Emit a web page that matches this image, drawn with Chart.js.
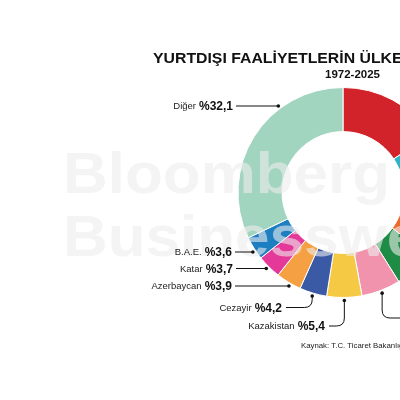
<!DOCTYPE html>
<html><head><meta charset="utf-8">
<script src="https://cdn.jsdelivr.net/npm/chart.js@4"></script>
<style>
html,body{margin:0;padding:0;width:400px;height:400px;overflow:hidden;background:#fff}
#wrap{position:absolute;left:0;top:0;width:686px;height:400px}
</style></head>
<body><div id="wrap"><canvas id="c" width="686" height="400"></canvas></div>
<script>
// ---- data ----
const categories = ['Rusya','Türkmenistan','Irak','Libya','Suudi Arabistan','Kazakistan','Cezayir','Azerbaycan','Katar','B.A.E.','Diğer'];
const shares = [15.7, 12.0, 7.3, 6.1, 6.0, 5.4, 4.2, 3.9, 3.7, 3.6, 32.1];
const sliceColors = ['#d2232a','#2bb5c9','#ee6a2c','#1e8c45','#f293ad','#f6c945','#3a5aa6','#f5a042','#e5399a','#1d7fc2','#a2d5c0'];
const titleText = 'YURTDIŞI FAALİYETLERİN ÜLKELERE GÖRE DAĞILIMI';
const subtitleText = '1972-2025';
const sourceText = 'Kaynak: T.C. Ticaret Bakanlığı';
const watermarkLines = ['Bloomberg', 'Businessweek'];

// ---- label layout (positions only) ----
const labelLayout = [
  {i:10, right:233, y:106, mode:'h'},
  {i:9,  right:232, y:252, mode:'h'},
  {i:8,  right:233, y:268.5, mode:'h'},
  {i:7,  right:232, y:286, mode:'h'},
  {i:6,  right:282, y:307.5, mode:'curveL'},
  {i:5,  right:325, y:326, mode:'curveL'},
  {i:4,  left:406,  y:318, mode:'curveR'}
];

const FONT = '"Liberation Sans", Arial, sans-serif';
const fmt = v => '%' + v.toFixed(1).replace('.', ',');

function fitText(ctx, text, x, y, font, refText, refWidth, color) {
  ctx.save();
  ctx.font = font;
  ctx.fillStyle = color;
  ctx.textBaseline = 'alphabetic';
  ctx.textAlign = 'left';
  const w = ctx.measureText(refText).width;
  const sx = refWidth / w;
  ctx.translate(x, y);
  ctx.scale(sx, 1);
  ctx.fillText(text, 0, 0);
  ctx.restore();
}

const overlay = {
  id: 'overlay',
  afterDatasetsDraw(chart) {
    const ctx = chart.ctx;
    const wm = 'rgba(236,236,236,0.6)';
    fitText(ctx, watermarkLines[0], 63, 193, 'bold 58px ' + FONT, watermarkLines[0], 327, wm);
    fitText(ctx, watermarkLines[1], 63, 256, 'bold 58px ' + FONT, watermarkLines[0], 327, wm);
  },
  afterDraw(chart) {
    const ctx = chart.ctx;
    fitText(ctx, titleText, 153, 63, 'bold 15.5px ' + FONT, 'YURTDIŞI FAALİYETLERİN ÜLK', 239, '#111');
    fitText(ctx, subtitleText, 325, 77.5, 'bold 10px ' + FONT, subtitleText, 55, '#111');
    ctx.save();
    ctx.font = '7.8px ' + FONT;
    ctx.fillStyle = '#222';
    ctx.textBaseline = 'alphabetic';
    ctx.fillText(sourceText, 301, 347.5);
    ctx.restore();

    const meta = chart.getDatasetMeta(0);
    ctx.save();
    ctx.strokeStyle = '#111';
    ctx.fillStyle = '#111';
    ctx.lineWidth = 1;
    labelLayout.forEach(L => {
      const arc = meta.data[L.i];
      const p = arc.getProps(['x','y','startAngle','endAngle','outerRadius']);
      const R = p.outerRadius + 3;
      let dx, dy;
      if (L.mode === 'h') {
        dy = L.y;
        dx = p.x - Math.sqrt(Math.max(R*R - (L.y - p.y)*(L.y - p.y), 0));
      } else {
        const a = (p.startAngle + p.endAngle) / 2;
        dx = p.x + R * Math.cos(a);
        dy = p.y + R * Math.sin(a);
      }
      ctx.beginPath(); ctx.arc(dx, dy, 1.8, 0, Math.PI*2); ctx.fill();
      const name = categories[L.i];
      const pct = fmt(shares[L.i]);
      ctx.textBaseline = 'alphabetic';
      ctx.font = 'bold 12px ' + FONT;
      const pw = ctx.measureText(pct).width;
      ctx.font = '9.5px ' + FONT;
      const nw = ctx.measureText(name).width;
      let left, right;
      if (L.right !== undefined) { right = L.right; left = right - pw - 3 - nw; }
      else { left = L.left; right = left + nw + 3 + pw; }
      ctx.fillStyle = '#222';
      ctx.font = '9.5px ' + FONT;
      ctx.fillText(name, left, L.y + 3.4);
      ctx.fillStyle = '#111';
      ctx.font = 'bold 12px ' + FONT;
      ctx.fillText(pct, left + nw + 3, L.y + 4.3);
      ctx.beginPath();
      if (L.mode === 'h') {
        ctx.moveTo(right + 3, L.y); ctx.lineTo(dx, dy);
      } else if (L.mode === 'curveL') {
        ctx.moveTo(right + 4, L.y);
        ctx.lineTo(dx - 8, L.y);
        ctx.quadraticCurveTo(dx, L.y, dx, L.y - 8);
        ctx.lineTo(dx, dy);
      } else {
        ctx.moveTo(dx, dy);
        ctx.lineTo(dx, L.y - 8);
        ctx.quadraticCurveTo(dx, L.y, dx + 8, L.y);
        ctx.lineTo(left - 4, L.y);
      }
      ctx.stroke();
    });
    ctx.restore();
  }
};

new Chart(document.getElementById('c').getContext('2d'), {
  type: 'doughnut',
  data: {
    labels: categories,
    datasets: [{ data: shares, backgroundColor: sliceColors, borderColor: '#ffffff', borderWidth: 1 }]
  },
  options: {
    responsive: false,
    devicePixelRatio: 1,
    animation: false,
    cutout: '58%',
    layout: { padding: { top: 87, bottom: 102, left: 0, right: 0 } },
    plugins: { legend: { display: false }, tooltip: { enabled: false } }
  },
  plugins: [overlay]
});
</script>
</body></html>
